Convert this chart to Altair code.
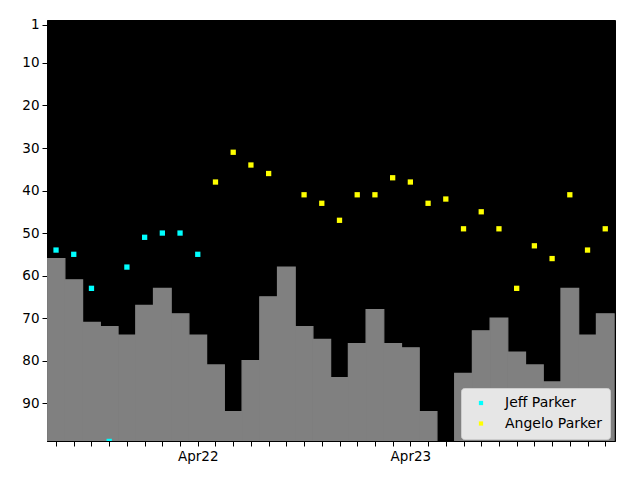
import altair as alt
import pandas as pd

# Months (x categories), one per step
months = pd.date_range("2021-08-01", periods=32, freq="MS")
month_labels = [m.strftime("%b%y") for m in months]
labelled_ticks = ["Apr22", "Apr23"]

# Gray step values (rank level per month); None = no bar
bar_rank = [56, 61, 71, 72, 74, 67, 63, 69, 74, 81, 92, 80, 65, 58, 72, 75,
            84, 76, 68, 76, 77, 92, None, 83, 73, 70, 78, 81, 85, 63, 74, 69]

# Point series
jeff_parker = [54, 55, 63, 99, 58, 51, 50, 50, 55] + [None] * 23
angelo_parker = [None] * 9 + [38, 31, 34, 36, None, 41, 43, 47, 41, 41, 37, 38,
                              43, 42, 49, 45, 49, 63, 53, 56, 41, 54, 49]

y_ticks = [1, 10, 20, 30, 40, 50, 60, 70, 80, 90]

idx = list(range(len(months)))
bars = pd.DataFrame({"i": idx, "label": month_labels, "rank": bar_rank})
bars = bars.dropna()
bars["x0"] = bars["i"] - 0.5
bars["x1"] = bars["i"] + 0.5

pts = pd.concat([
    pd.DataFrame({"i": idx, "rank": jeff_parker, "name": "Jeff Parker"}),
    pd.DataFrame({"i": idx, "rank": angelo_parker, "name": "Angelo Parker"}),
]).dropna()

tick_idx = [month_labels.index(l) for l in labelled_ticks]
label_expr = " : ".join(
    f"datum.value == {t} ? '{month_labels[t]}'" for t in tick_idx) + " : ''"

x_scale = alt.Scale(domain=[-0.51, 31.55], nice=False, zero=False)
y_scale = alt.Scale(domain=[-0.1, 98.9], reverse=True, nice=False, zero=False)

x_axis = alt.Axis(values=idx, labelExpr=label_expr, title=None, grid=False,
                  tickSize=5, labelPadding=3, labelFlush=False,
                  labelOverlap=False)
y_axis = alt.Axis(values=y_ticks, title=None, grid=False, tickSize=5,
                  labelPadding=3)

bar_layer = alt.Chart(bars).mark_rect(
    fill="#808080", stroke="#808080", strokeWidth=1.2, strokeOpacity=1,
    opacity=1, clip=True
).encode(
    x=alt.X("x0:Q", scale=x_scale, axis=x_axis),
    x2="x1:Q",
    y=alt.Y("rank:Q", scale=y_scale, axis=y_axis),
    y2=alt.datum(98.9),
)

pt_layer = alt.Chart(pts).mark_square(size=28, opacity=1, clip=True).encode(
    x=alt.X("i:Q", scale=x_scale, axis=x_axis),
    y=alt.Y("rank:Q", scale=y_scale, axis=y_axis),
    color=alt.Color("name:N",
                    scale=alt.Scale(domain=["Jeff Parker", "Angelo Parker"],
                                    range=["#00ffff", "#ffff00"]),
                    legend=alt.Legend(title=None, orient="none", legendX=414,
                                      legendY=368, fillColor="#e6e6e6",
                                      strokeColor="#cccccc", cornerRadius=3,
                                      padding=8, symbolType="square",
                                      symbolSize=18, symbolStrokeWidth=0,
                                      symbolOffset=5, labelOffset=17,
                                      labelFontSize=14, labelFont="DejaVu Sans",
                                      labelColor="#000000", rowPadding=6.5)),
)

chart = alt.layer(bar_layer, pt_layer).properties(
    width=568, height=421,
    autosize=alt.AutoSizeParams(type="none"),
    padding={"left": 47, "top": 20, "right": 25, "bottom": 39},
    background="white",
).configure_view(fill="black", stroke="black").configure_axis(
    domainColor="black", tickColor="black", labelColor="black",
    labelFont="DejaVu Sans", labelFontSize=13.5,
)

chart.save("out.html", embed_options={"renderer": "svg", "actions": False})
